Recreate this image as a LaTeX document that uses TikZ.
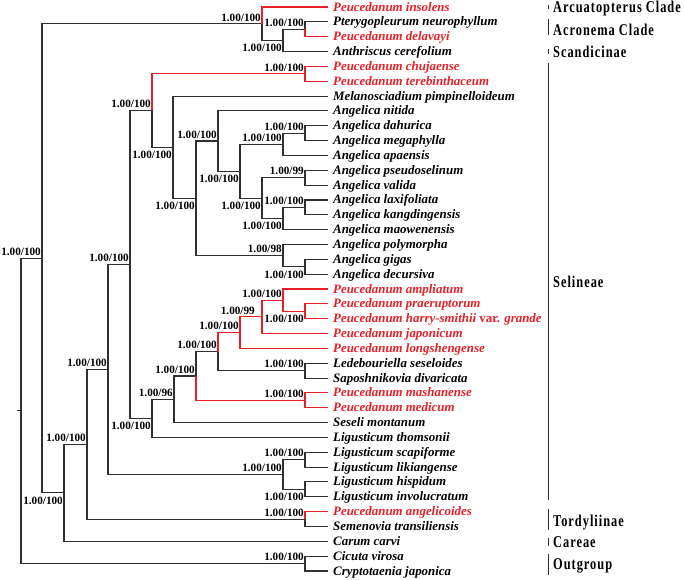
\documentclass[tikz,border=0pt]{standalone}
\usepackage{fontspec}
\setmainfont{Liberation Serif}
\newfontfamily\cladefont[FakeStretch=0.75,LetterSpace=6]{Liberation Serif}
\definecolor{lred}{RGB}{230,32,38}
\definecolor{lgray}{RGB}{48,48,48}
\tikzset{
  br/.style={draw=lgray, line width=1.1pt},
  rbr/.style={draw=lred, line width=1.1pt},
  taxon/.style={anchor=west, inner xsep=5pt, inner ysep=0pt, text height=9pt, text depth=1pt,
     font=\fontsize{12.9}{12.9}\selectfont\bfseries\itshape, text=black},
  rtaxon/.style={taxon, text=lred},
  sup/.style={font=\fontsize{11.2}{11.2}\selectfont\bfseries, inner xsep=1pt, text height=7.5pt, text depth=0pt},
  supa/.style={sup, anchor=south east, inner ysep=2.5pt},
  supb/.style={sup, anchor=north east, inner ysep=3.7pt},
  clade/.style={anchor=west, inner sep=0pt, text height=11pt, text depth=0pt,
     font=\cladefont\fontsize{16.5}{16.5}\bfseries\selectfont},
  bar/.style={draw=lgray, line width=0.9pt},
}
\begin{document}
\begin{tikzpicture}[x=1pt, y=-1pt]
\useasboundingbox (0,0) rectangle (685,579);
% leaves
\node[rtaxon] (t1)  at (328,7.00)   {Peucedanum insolens};
\node[taxon]  (t2)  at (328,21.84)  {Pterygopleurum neurophyllum};
\node[rtaxon] (t3)  at (328,36.68)  {Peucedanum delavayi};
\node[taxon]  (t4)  at (328,51.53)  {Anthriscus cerefolium};
\node[rtaxon] (t5)  at (328,66.37)  {Peucedanum chujaense};
\node[rtaxon] (t6)  at (328,81.21)  {Peucedanum terebinthaceum};
\node[taxon]  (t7)  at (328,96.05)  {Melanosciadium pimpinelloideum};
\node[taxon]  (t8)  at (328,110.89) {Angelica nitida};
\node[taxon]  (t9)  at (328,125.74) {Angelica dahurica};
\node[taxon]  (t10) at (328,140.58) {Angelica megaphylla};
\node[taxon]  (t11) at (328,155.42) {Angelica apaensis};
\node[taxon]  (t12) at (328,170.26) {Angelica pseudoselinum};
\node[taxon]  (t13) at (328,185.10) {Angelica valida};
\node[taxon]  (t14) at (328,199.95) {Angelica laxifoliata};
\node[taxon]  (t15) at (328,214.79) {Angelica kangdingensis};
\node[taxon]  (t16) at (328,229.63) {Angelica maowenensis};
\node[taxon]  (t17) at (328,244.47) {Angelica polymorpha};
\node[taxon]  (t18) at (328,259.31) {Angelica gigas};
\node[taxon]  (t19) at (328,274.16) {Angelica decursiva};
\node[rtaxon] (t20) at (328,289.00) {Peucedanum ampliatum};
\node[rtaxon] (t21) at (328,303.84) {Peucedanum praeruptorum};
\node[rtaxon] (t22) at (328,318.68) {Peucedanum harry-smithii {\upshape var.} grande};
\node[rtaxon] (t23) at (328,333.52) {Peucedanum japonicum};
\node[rtaxon] (t24) at (328,348.37) {Peucedanum longshengense};
\node[taxon]  (t25) at (328,363.21) {Ledebouriella seseloides};
\node[taxon]  (t26) at (328,378.05) {Saposhnikovia divaricata};
\node[rtaxon] (t27) at (328,392.89) {Peucedanum mashanense};
\node[rtaxon] (t28) at (328,407.73) {Peucedanum medicum};
\node[taxon]  (t29) at (328,422.58) {Seseli montanum};
\node[taxon]  (t30) at (328,437.42) {Ligusticum thomsonii};
\node[taxon]  (t31) at (328,452.26) {Ligusticum scapiforme};
\node[taxon]  (t32) at (328,467.10) {Ligusticum likiangense};
\node[taxon]  (t33) at (328,481.94) {Ligusticum hispidum};
\node[taxon]  (t34) at (328,496.79) {Ligusticum involucratum};
\node[rtaxon] (t35) at (328,511.63) {Peucedanum angelicoides};
\node[taxon]  (t36) at (328,526.47) {Semenovia transiliensis};
\node[taxon]  (t37) at (328,541.31) {Carum carvi};
\node[taxon]  (t38) at (328,556.15) {Cicuta virosa};
\node[taxon]  (t39) at (328,571.00) {Cryptotaenia japonica};
% internal nodes
\coordinate (D)  at (305,29.26);
\coordinate (E)  at (283,40.40);
\coordinate (C1) at (262,23.70);
\coordinate (CH) at (305,73.79);
\coordinate (S)  at (305,133.16);
\coordinate (R)  at (283,144.29);
\coordinate (U)  at (305,177.68);
\coordinate (W)  at (305,207.37);
\coordinate (V)  at (283,218.50);
\coordinate (T)  at (262,198.09);
\coordinate (O)  at (240,171.19);
\coordinate (N)  at (218,141.04);
\coordinate (Q)  at (305,266.74);
\coordinate (P)  at (283,255.60);
\coordinate (M)  at (196,198.32);
\coordinate (L)  at (173,147.19);
\coordinate (K)  at (152,110.49);
\coordinate (AD) at (305,311.26);
\coordinate (AC) at (283,300.13);
\coordinate (AB) at (262,316.83);
\coordinate (AA) at (240,332.60);
\coordinate (LS) at (305,370.63);
\coordinate (Z)  at (218,351.62);
\coordinate (MM) at (305,400.31);
\coordinate (Y)  at (196,375.97);
\coordinate (X)  at (174,399.28);
\coordinate (J)  at (152,418.35);
\coordinate (I)  at (130,264.42);
\coordinate (SL) at (305,459.68);
\coordinate (HI) at (305,489.37);
\coordinate (H)  at (283,474.53);
\coordinate (G)  at (108,369.48);
\coordinate (TO) at (305,519.05);
\coordinate (F)  at (87,444.27);
\coordinate (B)  at (64,492.79);
\coordinate (A)  at (42,258.25);
\coordinate (OG) at (305,563.58);
\coordinate (Root) at (21,410.91);
\coordinate (R0) at (17,410.91);
% black branches
\draw[br] (Root) -- (R0);
\draw[br] (Root) |- (A);  \draw[br] (Root) |- (OG);
\draw[br] (A) |- (C1);    \draw[br] (A) |- (B);
\draw[br] (C1) |- (E);
\draw[br] (E) |- (D);     \draw[br] (E) |- (t4.west);
\draw[br] (D) |- (t2.west);
\draw[br] (B) |- (F);     \draw[br] (B) |- (t37.west);
\draw[br] (F) |- (G);     \draw[br] (F) |- (TO);
\draw[br] (TO) |- (t36.west);
\draw[br] (G) |- (I);     \draw[br] (G) |- (H);
\draw[br] (H) |- (SL);    \draw[br] (H) |- (HI);
\draw[br] (SL) |- (t31.west); \draw[br] (SL) |- (t32.west);
\draw[br] (HI) |- (t33.west); \draw[br] (HI) |- (t34.west);
\draw[br] (I) |- (K);     \draw[br] (I) |- (J);
\draw[br] (K) |- (L);
\draw[br] (L) |- (t7.west); \draw[br] (L) |- (M);
\draw[br] (M) |- (N);     \draw[br] (M) |- (P);
\draw[br] (N) |- (t8.west); \draw[br] (N) |- (O);
\draw[br] (O) |- (R);     \draw[br] (O) |- (T);
\draw[br] (R) |- (S);     \draw[br] (R) |- (t11.west);
\draw[br] (S) |- (t9.west); \draw[br] (S) |- (t10.west);
\draw[br] (T) |- (U);     \draw[br] (T) |- (V);
\draw[br] (U) |- (t12.west); \draw[br] (U) |- (t13.west);
\draw[br] (V) |- (W);     \draw[br] (V) |- (t16.west);
\draw[br] (W) |- (t14.west); \draw[br] (W) |- (t15.west);
\draw[br] (P) |- (t17.west); \draw[br] (P) |- (Q);
\draw[br] (Q) |- (t18.west); \draw[br] (Q) |- (t19.west);
\draw[br] (J) |- (X);     \draw[br] (J) |- (t30.west);
\draw[br] (X) |- (Y);     \draw[br] (X) |- (t29.west);
\draw[br] (Y) |- (Z);
\draw[br] (Z) |- (LS);
\draw[br] (LS) |- (t25.west); \draw[br] (LS) |- (t26.west);
\draw[br] (OG) |- (t38.west); \draw[br] (OG) |- (t39.west);
% red branches
\draw[rbr] (C1) |- (t1.west);
\draw[rbr] (D) |- (t3.west);
\draw[rbr] (K) |- (CH);
\draw[rbr] (CH) |- (t5.west); \draw[rbr] (CH) |- (t6.west);
\draw[rbr] (Z) |- (AA);
\draw[rbr] (AA) |- (AB);  \draw[rbr] (AA) |- (t24.west);
\draw[rbr] (AB) |- (AC);  \draw[rbr] (AB) |- (t23.west);
\draw[rbr] (AC) |- (t20.west); \draw[rbr] (AC) |- (AD);
\draw[rbr] (AD) |- (t21.west); \draw[rbr] (AD) |- (t22.west);
\draw[rbr] (Y) |- (MM);
\draw[rbr] (MM) |- (t27.west); \draw[rbr] (MM) |- (t28.west);
\draw[rbr] (TO) |- (t35.west);
% support values
\node[supa] (lA)  at (A)  {1.00/100};
\node[supa] (lC1) at (C1) {1.00/100};
\node[supa] (lD)  at (D)  {1.00/100};
\node[supb] (lE)  at (E)  {1.00/100};
\node[supa] (lCH) at (CH) {1.00/100};
\node[supa] (lK)  at (K)  {1.00/100};
\node[supb] (lL)  at (L)  {1.00/100};
\node[supb] (lM)  at (M)  {1.00/100};
\node[supa] (lN)  at (N)  {1.00/100};
\node[supa] (lS)  at (S)  {1.00/100};
\node[supa] (lR)  at (R)  {1.00/100};
\node[supb] (lO)  at (O)  {1.00/100};
\node[supb] (lT)  at (T)  {1.00/100};
\node[supa] (lU)  at (U)  {1.00/99};
\node[supa] (lW)  at (W)  {1.00/100};
\node[supb] (lV)  at (V)  {1.00/100};
\node[supa] (lP)  at (P)  {1.00/98};
\node[supb] (lQ)  at (Q)  {1.00/100};
\node[supa] (lI)  at (I)  {1.00/100};
\node[supa] (lG)  at (G)  {1.00/100};
\node[supa] (lF)  at (F)  {1.00/100};
\node[supb] (lB)  at (B)  {1.00/100};
\node[supb] (lJ)  at (J)  {1.00/100};
\node[supa] (lX)  at (X)  {1.00/96};
\node[supa] (lY)  at (Y)  {1.00/100};
\node[supa] (lZ)  at (Z)  {1.00/100};
\node[supa] (lAA) at (AA) {1.00/100};
\node[supa, xshift=-6pt] (lAB) at (AB) {1.00/99};
\node[supa] (lAC) at (AC) {1.00/100};
\node[supb] (lAD) at (AD) {1.00/100};
\node[supa] (lLS) at (LS) {1.00/100};
\node[supa] (lMM) at (MM) {1.00/100};
\node[supa] (lH)  at (H)  {1.00/100};
\node[supa] (lSL) at (SL) {1.00/100};
\node[supb] (lHI) at (HI) {1.00/100};
\node[supa] (lTO) at (TO) {1.00/100};
\node[supa] (lOG) at (OG) {1.00/100};
% clade bars and names
\draw[bar] (548,5) -- (548,9);
\draw[bar] (548,19) -- (548,35);
\draw[bar] (548,49) -- (548,54);
\draw[bar] (548,63) -- (548,500);
\draw[bar] (548,509) -- (548,530);
\draw[bar] (548,538) -- (548,546);
\draw[bar] (548,554) -- (548,575);
\node[clade] (c1) at (553,7.2)   {Arcuatopterus Clade};
\node[clade] (c2) at (553,30)    {Acronema Clade};
\node[clade] (c3) at (553,51.7)  {Scandicinae};
\node[clade] (c4) at (553,281.7) {Selineae};
\node[clade] (c5) at (553,520.5) {Tordyliinae};
\node[clade] (c6) at (553,541.7) {Careae};
\node[clade] (c7) at (553,564)   {Outgroup};
\end{tikzpicture}
\end{document}
